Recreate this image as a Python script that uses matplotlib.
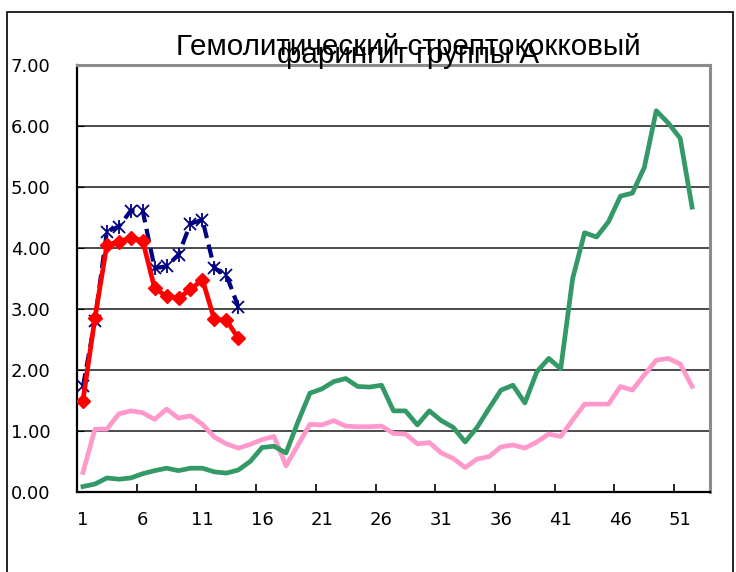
import matplotlib
matplotlib.use("Agg")
import matplotlib.pyplot as plt
from matplotlib.patches import Rectangle

weeks_short = list(range(1, 15))
weeks_long = list(range(1, 53))

navy_series = [1.73, 2.81, 4.27, 4.35, 4.61, 4.61, 3.67, 3.70, 3.89, 4.40, 4.46, 3.67, 3.56, 3.04]
red_series = [1.50, 2.85, 4.05, 4.10, 4.17, 4.12, 3.34, 3.21, 3.18, 3.32, 3.48, 2.83, 2.82, 2.52]
green_series = [0.09, 0.13, 0.23, 0.21, 0.23, 0.30, 0.35, 0.39, 0.35, 0.39,
                0.39, 0.33, 0.31, 0.36, 0.50, 0.73, 0.75, 0.64, 1.15, 1.62,
                1.69, 1.81, 1.86, 1.73, 1.72, 1.75, 1.33, 1.33, 1.10, 1.33,
                1.17, 1.06, 0.82, 1.06, 1.37, 1.67, 1.75, 1.46, 1.97, 2.19,
                2.02, 3.50, 4.25, 4.18, 4.43, 4.85, 4.90, 5.32, 6.25, 6.05,
                5.80, 4.67]
pink_series = [0.32, 1.03, 1.03, 1.28, 1.33, 1.30, 1.19, 1.36, 1.21, 1.25,
               1.11, 0.90, 0.79, 0.72, 0.78, 0.86, 0.91, 0.43, 0.77, 1.11,
               1.10, 1.17, 1.08, 1.07, 1.07, 1.08, 0.96, 0.95, 0.79, 0.81,
               0.64, 0.55, 0.40, 0.54, 0.58, 0.74, 0.77, 0.72, 0.82, 0.95,
               0.91, 1.18, 1.44, 1.44, 1.44, 1.73, 1.67, 1.92, 2.16, 2.19,
               2.10, 1.73]
x_labels = [1, 6, 11, 16, 21, 26, 31, 36, 41, 46, 51]
y_ticks = [0, 1, 2, 3, 4, 5, 6, 7]
title_line1 = "Гемолитический стрептококковый"
title_line2 = "фарингит группы А"

W, H = 736, 572
fig = plt.figure(figsize=(W / 100, H / 100), dpi=100)
plt.rcParams['font.family'] = ['DejaVu Sans']

def fx(px):
    return px / W

def fy(py):
    return 1 - py / H

L, R, T, B = 77, 710, 65, 492
ax = fig.add_axes([fx(L), fy(B), fx(R) - fx(L), fy(T) - fy(B)])

# chart border
fig.patches.append(Rectangle((fx(7), fy(580)), fx(733) - fx(7), fy(12) - fy(580),
                             transform=fig.transFigure, fill=False,
                             edgecolor='black', linewidth=1.2))

for yv in y_ticks[1:-1]:
    ax.axhline(yv, color='#1a1a1a', linewidth=1.1, zorder=1)

ax.plot(weeks_long, pink_series, color='#FF99CC', linewidth=3.4, zorder=3,
        solid_joinstyle='round')
ax.plot(weeks_long, green_series, color='#339966', linewidth=3.4, zorder=3,
        solid_joinstyle='round')
ax.plot(weeks_short, navy_series, color='#000080', linewidth=3.0,
        dashes=(3.2, 1.6), marker='x', markersize=9, markeredgewidth=1.3, zorder=4)
ax.plot(weeks_short, navy_series, linestyle='none', color='#000080',
        marker='|', markersize=10, markeredgewidth=1.3, zorder=4)
ax.plot(weeks_short, red_series, color='#FF0000', linewidth=3.4, marker='D',
        markersize=7.5, zorder=5)

ax.set_xlim(0.5, 53.5)
ax.set_ylim(0, 7)
ax.set_yticks(y_ticks)
ax.set_yticklabels([f"{v:.2f}" for v in y_ticks], fontsize=13)
ax.tick_params(axis='y', direction='in', length=5, pad=19, color='black')

ax.set_xticks([0.5 + 5 * k for k in range(1, 11)])
ax.set_xticklabels([])
ax.set_xticks(x_labels, minor=True)
ax.set_xticklabels([str(v) for v in x_labels], minor=True, fontsize=13)
ax.tick_params(axis='x', which='major', direction='in', length=6, width=1.2)
ax.tick_params(axis='x', which='minor', length=0, pad=14)

for s in ['left', 'bottom']:
    ax.spines[s].set_color('black')
    ax.spines[s].set_linewidth(1.6)
for s in ['top', 'right']:
    ax.spines[s].set_color('#8c8c8c')
    ax.spines[s].set_linewidth(2.2)

fig.text(fx(408), fy(47), title_line1, ha='center', va='center', fontsize=21.3,
         family=['Liberation Sans', 'DejaVu Sans'])
fig.text(fx(408), fy(55), title_line2, ha='center', va='center', fontsize=21.3,
         family=['Liberation Sans', 'DejaVu Sans'])

fig.savefig("out.png", dpi=100)
